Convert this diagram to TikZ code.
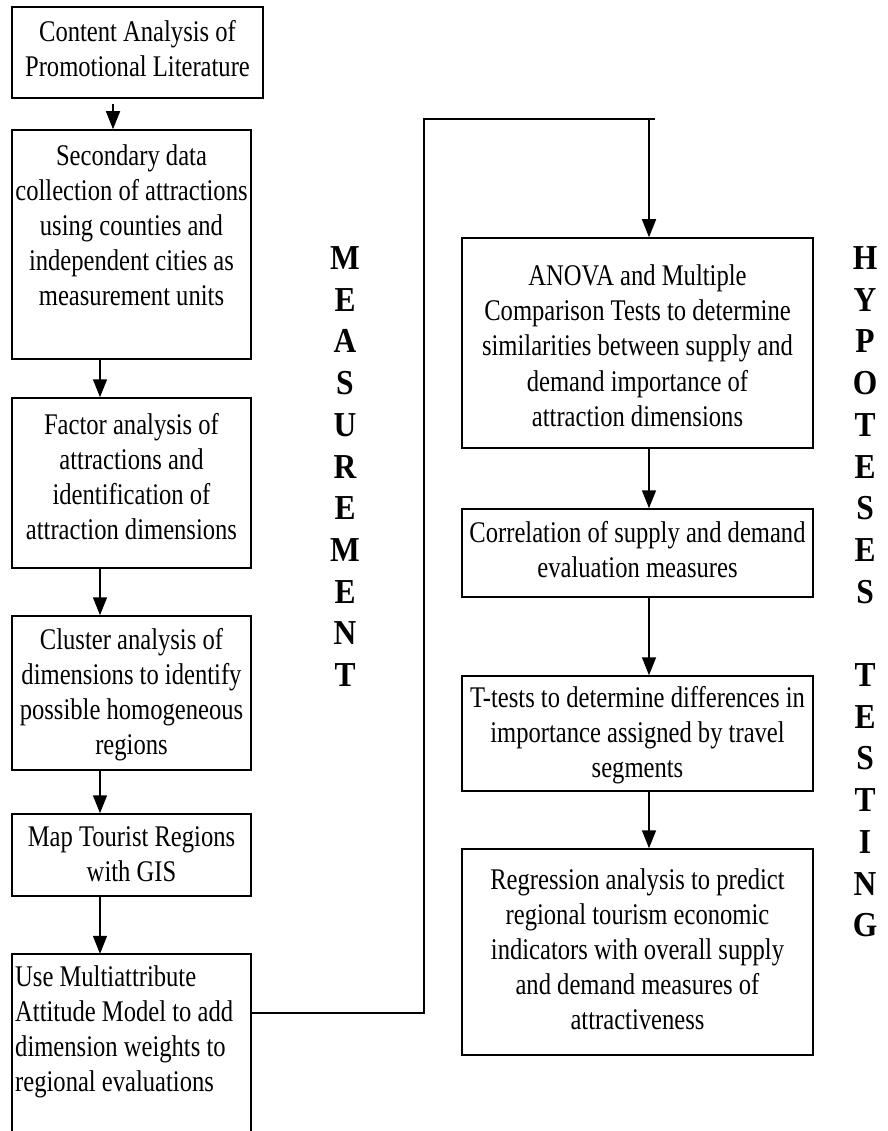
\documentclass[tikz,border=0pt]{standalone}
\usepackage{fontspec}
\setmainfont{Liberation Serif}[FakeStretch=0.82]
\newfontfamily\sidefont{Liberation Serif}[FakeStretch=0.9]
\usetikzlibrary{arrows.meta}
\begin{document}
\begin{tikzpicture}[x=1pt,y=-1pt,
  box/.style={draw, line width=1.5pt, inner sep=0pt, minimum width=239pt},
  rbox/.style={box, minimum width=351pt},
  txt/.style={inner sep=0pt, anchor=base, font=\fontsize{30pt}{35pt}\selectfont},
  side/.style={inner sep=0pt, anchor=base, font=\sidefont\bfseries\fontsize{35pt}{41.7pt}\selectfont},
  wire/.style={line width=1.5pt},
  arr/.style={wire, -{Triangle[length=18pt,width=14pt]}}]
\useasboundingbox (0,0) rectangle (887,1131);

% measurement column
\node[box, minimum width=251pt, minimum height=91pt] (b1) at (137.5,52.5) {};
\node[box, minimum height=229pt] (b2) at (131.5,244.5) {};
\node[box, minimum height=170pt] (b3) at (131.5,483) {};
\node[box, minimum height=154pt] (b4) at (131.5,693) {};
\node[box, minimum height=82pt] (b5) at (131.5,855) {};
\node[inner sep=0pt, minimum width=239pt, minimum height=182pt] (b6) at (131.5,1045) {};
\draw[wire] (b6.south west) |- (b6.north east) -- (b6.south east);

\node[txt] (t1) at (137.5,42) {\parbox[t]{300pt}{\centering Content Analysis of\\Promotional Literature}};
\node[txt] (t2) at (131.5,166) {\parbox[t]{300pt}{\centering Secondary data\\collection of attractions\\using counties and\\independent cities as\\measurement units}};
\node[txt] (t3) at (131.5,434) {\parbox[t]{300pt}{\centering Factor analysis of\\attractions and\\identification of\\attraction dimensions}};
\node[txt] (t4) at (131.5,649) {\parbox[t]{300pt}{\centering Cluster analysis of\\dimensions to identify\\possible homogeneous\\regions}};
\node[txt] (t5) at (131.5,846) {\parbox[t]{300pt}{\centering Map Tourist Regions\\with GIS}};
\node[txt, anchor=base west] (t6) at (15,986) {\parbox[t]{300pt}{\raggedright Use Multiattribute\\Attitude Model to add\\dimension weights to\\regional evaluations}};

% hypotheses testing column
\node[rbox, minimum height=210pt] (r1) at (637.5,343) {};
\node[rbox, minimum height=88pt] (r2) at (637.5,553) {};
\node[rbox, minimum height=115pt] (r3) at (637.5,733.5) {};
\node[rbox, minimum height=206pt] (r4) at (637.5,952) {};

\node[txt] (s1) at (637.5,286) {\parbox[t]{400pt}{\centering ANOVA and Multiple\\Comparison Tests to determine\\similarities between supply and\\demand importance of\\attraction dimensions}};
\node[txt] (s2) at (637.5,542) {\parbox[t]{400pt}{\centering Correlation of supply and demand\\evaluation measures}};
\node[txt] (s3) at (637.5,707) {\parbox[t]{400pt}{\centering T-tests to determine differences in\\importance assigned by travel\\segments}};
\node[txt] (s4) at (637.5,889) {\parbox[t]{400pt}{\centering Regression analysis to predict\\regional tourism economic\\indicators with overall supply\\and demand measures of\\attractiveness}};

% vertical side labels
\node[side] (lm) at (345,269.5) {\parbox[t]{60pt}{\centering M\\E\\A\\S\\U\\R\\E\\M\\E\\N\\T}};
\node[side] (lh) at (865,269.5) {\parbox[t]{60pt}{\centering H\\Y\\P\\O\\T\\E\\S\\E\\S\\\mbox{}\\T\\E\\S\\T\\I\\N\\G}};

% arrow columns
\coordinate (ax) at (113,0);
\coordinate (lx) at (100,0);
\coordinate (rx) at (649,0);

\draw[arr, shorten <=5pt] (b1.south -| ax) -- (b2.north -| ax);
\draw[arr] (b2.south -| lx) -- (b3.north -| lx);
\draw[arr] (b3.south -| lx) -- (b4.north -| lx);
\draw[arr] (b4.south -| lx) -- (b5.north -| lx);
\draw[arr] (b5.south -| lx) -- (b6.north -| lx);

\draw[arr] (r1.south -| rx) -- (r2.north -| rx);
\draw[arr] (r2.south -| rx) -- (r3.north -| rx);
\draw[arr] (r3.south -| rx) -- (r4.north -| rx);

% link from the last measurement step to the first test
\coordinate (j1) at (424,1013);
\coordinate (j2) at (424,119);
\coordinate (j3) at (649,119);
\coordinate (j4) at (655,119);
\draw[wire] (b6.east |- j1) -- (j1) -- (j2) -- (j4);
\draw[arr] (j3) -- (j3 |- r1.north);
\end{tikzpicture}
\end{document}
